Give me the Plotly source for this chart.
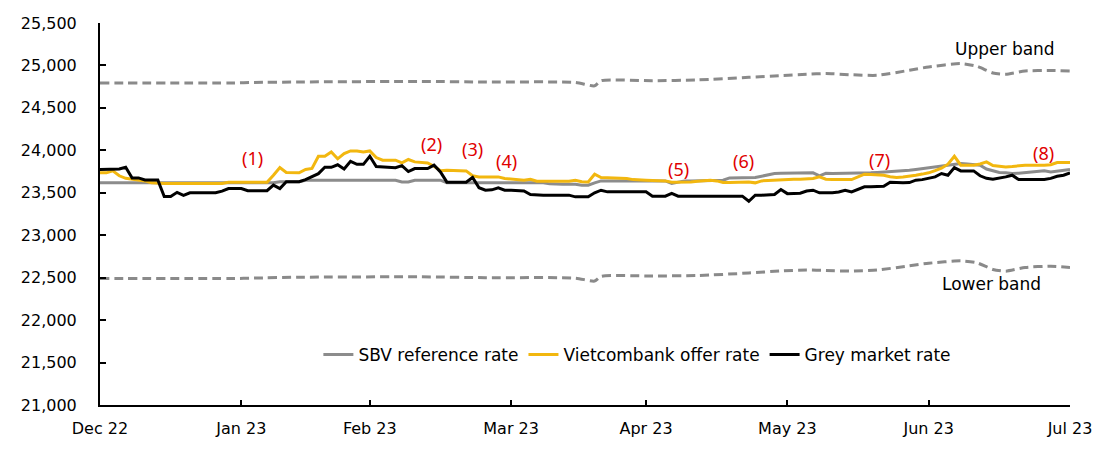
import plotly.graph_objects as go

# trading-day index positions of month ticks
tick_idx = [0, 22, 42, 64, 85, 107, 129, 151]
tick_labels = ["Dec 22", "Jan 23", "Feb 23", "Mar 23", "Apr 23", "May 23", "Jun 23", "Jul 23"]

grey_market = [
    23775, 23775, 23775, 23780, 23800, 23675, 23675, 23650, 23650, 23650,
    23455, 23455, 23505, 23470, 23500, 23500, 23500, 23500, 23500, 23520,
    23550, 23550, 23550, 23525, 23525, 23525, 23525, 23590, 23550, 23630,
    23630, 23630, 23655, 23690, 23725, 23800, 23800, 23830, 23780, 23870,
    23835, 23835, 23930, 23810, 23805, 23800, 23795, 23820, 23750, 23785,
    23785, 23785, 23825, 23745, 23625, 23625, 23625, 23625, 23680, 23560,
    23530, 23535, 23558, 23530, 23530, 23522, 23522, 23480, 23472, 23472,
    23472, 23472, 23472, 23472, 23452, 23452, 23452, 23500, 23530, 23511,
    23511, 23511, 23511, 23511, 23511, 23511, 23460, 23460, 23460, 23492,
    23460, 23460, 23460, 23460, 23460, 23460, 23460, 23460, 23460, 23460,
    23460, 23400, 23472, 23472, 23472, 23480, 23539, 23490, 23492, 23495,
    23520, 23530, 23500, 23500, 23500, 23510, 23530, 23511, 23540, 23570,
    23572, 23575, 23578, 23625, 23620, 23617, 23620, 23648, 23655, 23668,
    23687, 23727, 23707, 23797, 23758, 23758, 23758, 23700, 23670, 23660,
    23670, 23687, 23707, 23656, 23656, 23656, 23656, 23656, 23670, 23695,
    23707, 23735,
]

vietcombank = [
    23735, 23735, 23758, 23700, 23670, 23660, 23650, 23640, 23617, 23610,
    23610, 23610, 23610, 23610, 23610, 23610, 23610, 23610, 23610, 23610,
    23625, 23625, 23625, 23625, 23625, 23625, 23625, 23707, 23797, 23740,
    23735, 23735, 23774, 23786, 23930, 23930, 23981, 23900, 23962, 23993,
    23993, 23982, 23993, 23915, 23884, 23884, 23884, 23852, 23892, 23864,
    23860, 23852, 23813, 23760, 23766, 23766, 23766, 23758, 23700, 23687,
    23687, 23687, 23687, 23668, 23660, 23648, 23648, 23660, 23636, 23636,
    23636, 23636, 23636, 23636, 23648, 23630, 23628, 23719, 23680, 23678,
    23672, 23668, 23668, 23655, 23648, 23648, 23645, 23643, 23640, 23625,
    23625, 23628, 23628, 23635, 23640, 23648, 23640, 23621, 23622, 23625,
    23628, 23628, 23617, 23640, 23645, 23650, 23656, 23656, 23658, 23660,
    23665, 23668, 23687, 23660, 23656, 23656, 23656, 23656, 23687, 23719,
    23715, 23710, 23707, 23690, 23680, 23687, 23695, 23707, 23720, 23735,
    23760, 23790, 23837, 23930, 23825, 23825, 23825, 23840, 23864, 23820,
    23813, 23805, 23810, 23820, 23825, 23825, 23822, 23825, 23830, 23856,
    23856, 23856,
]

sbv_reference = [
    23617, 23617, 23617, 23617, 23617, 23617, 23617, 23617, 23617, 23617,
    23617, 23617, 23617, 23617, 23617, 23617, 23617, 23617, 23617, 23617,
    23617, 23617, 23617, 23617, 23617, 23617, 23617, 23617, 23630, 23630,
    23630, 23630, 23648, 23648, 23648, 23648, 23648, 23648, 23648, 23648,
    23648, 23648, 23648, 23648, 23648, 23648, 23648, 23628, 23628, 23648,
    23648, 23648, 23648, 23648, 23617, 23617, 23617, 23617, 23617, 23617,
    23617, 23617, 23617, 23617, 23617, 23617, 23617, 23617, 23617, 23617,
    23605, 23600, 23600, 23600, 23600, 23589, 23589, 23617, 23640, 23640,
    23640, 23640, 23640, 23640, 23640, 23640, 23640, 23640, 23640, 23610,
    23625, 23640, 23640, 23640, 23640, 23640, 23640, 23648, 23675, 23678,
    23678, 23678, 23680, 23695, 23710, 23727, 23730, 23730, 23735, 23735,
    23735, 23735, 23700, 23730, 23727, 23727, 23727, 23727, 23730, 23733,
    23735, 23740, 23745, 23746, 23752, 23760, 23766, 23775, 23785, 23797,
    23805, 23815, 23825, 23840, 23845, 23840, 23830, 23825, 23780, 23760,
    23740, 23735, 23728, 23730, 23735, 23740, 23746, 23758, 23746, 23755,
    23765, 23774,
]

band_idx = [0, 21, 24, 31, 50, 60, 74, 77, 78, 86, 93, 101, 106, 110, 113,
            117, 121, 126, 129, 134, 136.5, 139, 141, 144, 148, 151]
upper_band = [24794, 24794, 24800, 24805, 24812, 24805, 24800, 24760, 24820, 24820,
              24830, 24860, 24880, 24895, 24905, 24890, 24884, 24943, 24982, 25022,
              24990, 24911, 24896, 24935, 24940, 24935]
lower_band = [22490, 22490, 22495, 22505, 22510, 22500, 22495, 22460, 22515, 22520,
              22525, 22555, 22580, 22590, 22585, 22577, 22590, 22640, 22670, 22698,
              22675, 22597, 22577, 22620, 22635, 22620]

event_labels = ["(1)", "(2)", "(3)", "(4)", "(5)", "(6)", "(7)", "(8)"]
event_x = [23.8, 51.6, 58.0, 63.3, 90.1, 100.2, 121.4, 146.8]
event_y = [23904, 24072, 24010, 23876, 23786, 23876, 23884, 23970]

band_label_text = ["Upper band", "Lower band"]
band_label_x = [140.9, 138.8]
band_label_y = [25190, 22430]

n = len(grey_market)
idx = list(range(n))

FONT = "DejaVu Sans"
fig = go.Figure()

for band in (upper_band, lower_band):
    fig.add_trace(go.Scatter(x=band_idx, y=band, mode="lines", showlegend=False,
                             line=dict(color="#8a8a8a", width=3, dash="9px,5px", shape="spline", smoothing=0.6),
                             hoverinfo="skip"))

fig.add_trace(go.Scatter(x=idx, y=sbv_reference, mode="lines", name="SBV reference rate",
                         line=dict(color="#8c8c8c", width=3)))
fig.add_trace(go.Scatter(x=idx, y=vietcombank, mode="lines", name="Vietcombank offer rate",
                         line=dict(color="#f2b70f", width=3)))
fig.add_trace(go.Scatter(x=idx, y=grey_market, mode="lines", name="Grey market rate",
                         line=dict(color="#000000", width=3)))

for t, x, y in zip(event_labels, event_x, event_y):
    fig.add_annotation(x=x, y=y, xref="x", yref="y", text=t, showarrow=False,
                       font=dict(family="Noto Sans", size=18, color="#e00000"))

for t, x, y in zip(band_label_text, band_label_x, band_label_y):
    fig.add_annotation(x=x, y=y, xref="x", yref="y", text=t, showarrow=False,
                       font=dict(family=FONT, size=17, color="#000"))

fig.update_layout(
    width=1112, height=450,
    margin=dict(l=100, r=42, t=23, b=45),
    paper_bgcolor="white", plot_bgcolor="white",
    font=dict(family=FONT, size=16, color="#000"),
    legend=dict(orientation="h", x=0.554, y=0.131, xanchor="center", yanchor="middle",
                font=dict(family=FONT, size=17), bgcolor="rgba(0,0,0,0)"),
    showlegend=True,
)
fig.update_xaxes(range=[0, 151], tickmode="array", tickvals=tick_idx, ticktext=tick_labels,
                 showgrid=False, zeroline=False, showline=True, linecolor="#000", linewidth=2,
                 ticks="inside", ticklen=5, tickwidth=1.5, tickcolor="#000", ticklabelstandoff=8)
fig.update_yaxes(range=[21000, 25500], tickvals=list(range(21000, 25501, 500)), tickformat=",d",
                 showgrid=False, zeroline=False, showline=True, linecolor="#000", linewidth=2,
                 ticks="inside", ticklen=6, tickwidth=1.5, tickcolor="#000", ticklabelstandoff=18)

fig.write_html("out.html")
